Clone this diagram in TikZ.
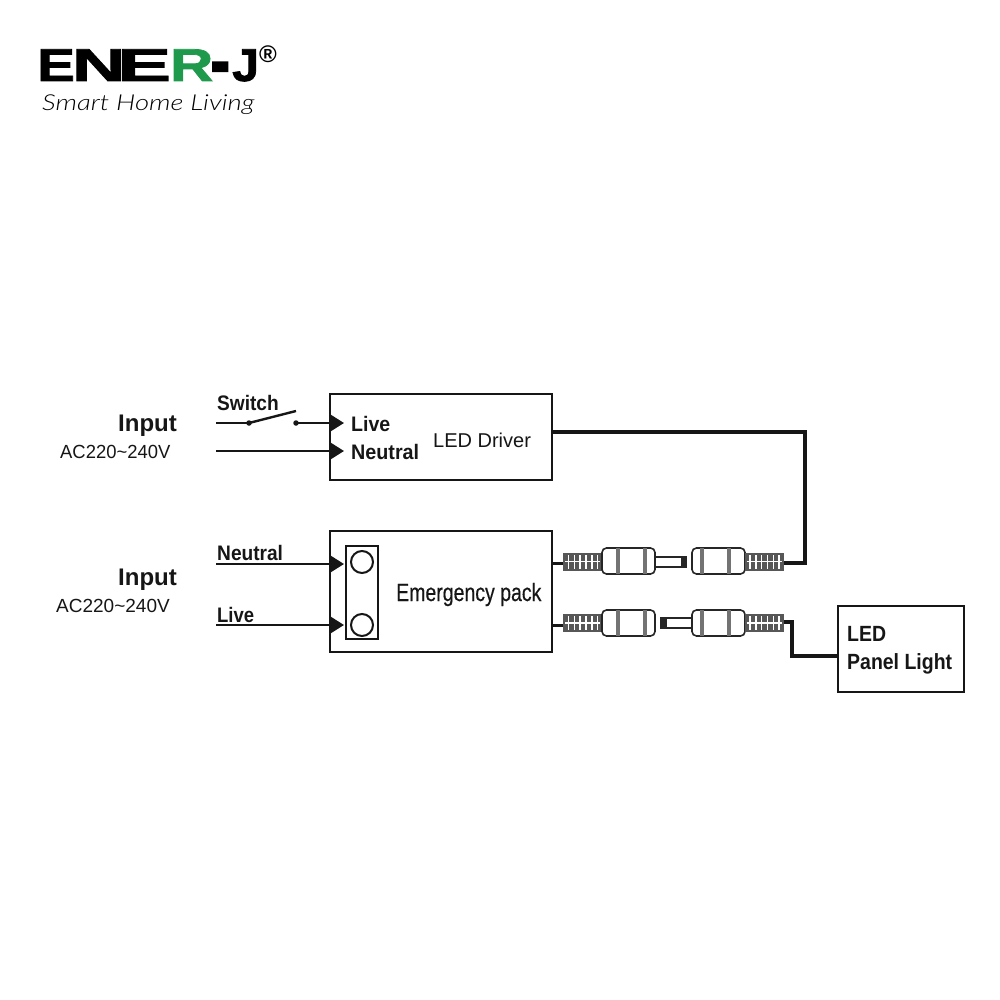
\documentclass[tikz,border=0pt]{standalone}
\usepackage{fontspec}
\setmainfont{Liberation Sans}
\newfontfamily\handfont{Lato Light}
\newfontfamily\logofont[FakeBold=1.6]{Liberation Sans Bold}
\newfontfamily\medfont[FakeBold=0.4]{Liberation Sans}
\usetikzlibrary{arrows.meta,calc}
\definecolor{ink}{HTML}{161616}
\definecolor{logogreen}{HTML}{1F9A4D}
\newcommand{\fs}[1]{\fontsize{#1}{#1}\selectfont}
\newcommand{\sx}[2]{\scalebox{#1}[1]{#2}}
\tikzset{
  x=1pt,y=-1pt,
  unit/.style={draw=ink,line width=2.4pt,fill=white,inner sep=0pt},
  lab/.style={anchor=base west,inner sep=0pt,text=ink},
  boldlab/.style={lab,font=\bfseries\fs{21}},
  inlab/.style={lab,font=\bfseries\fs{24}},
  vlab/.style={lab,font=\fs{19}},
  panellab/.style={lab,font=\bfseries\fs{22}},
  wire/.style={draw=ink,line width=2.4pt},
  feed/.style={draw=ink,line width=3.6pt,line join=miter},
  stub/.style={draw=ink,line width=3pt},
  tipwire/.style={wire,-{Triangle[length=14pt,width=17pt]}},
  contact/.style={circle,fill=ink,inner sep=0pt,minimum size=5.5pt},
  termbox/.style={draw=ink,line width=2pt,inner sep=0pt},
  spring/.style={rectangle,inner sep=0pt,minimum width=39pt,minimum height=18pt,fill=black!66,
    path picture={
      \foreach \f in {.14,.29,.44,.59,.74,.88}
        \draw[white,line width=1.4pt] ($(path picture bounding box.south west)!\f!(path picture bounding box.south east)+(0,-2)$) -- ++(0,-14);
      \draw[white,line width=1.1pt] ($(path picture bounding box.west)+(2,0)$) -- ($(path picture bounding box.east)+(-2,0)$);
    }},
  plugbody/.style={rectangle,draw=black!85,line width=1.6pt,fill=white,rounded corners=4.5pt,inner sep=0pt,minimum width=53pt,minimum height=26pt},
  band/.style={fill=black!55,draw=none},
  pin/.style={rectangle,draw=black!85,line width=1.2pt,fill=white,inner sep=0pt,minimum width=31pt,minimum height=10pt},
  pintip/.style={fill=black!85,draw=none},
}
\begin{document}
\begin{tikzpicture}
\useasboundingbox (0,0) rectangle (1000,1000);

% logo
\node[lab,text=black] (logo) at (37,81) {\fs{46}\logofont\sx{1.23}{E}\kern-3pt\sx{1.61}{N}\kern-8pt\sx{1.75}{E}\kern-1pt\textcolor{logogreen}{\sx{1.3}{R}}\kern-3pt\raisebox{-6pt}[0pt][0pt]{\scalebox{1.3}[1.7]{-}}\kern2pt\sx{1.05}{J}\kern-6pt};
\node[lab,text=black] (regmark) at (259,63) {\fs{24}\bfseries ®};
\node[lab,text=black] (tagline) at (42,111) {\handfont\itshape\fs{22}\sx{1.25}{Smart Home Living}};

% boxes
\node[unit,minimum width=222pt,minimum height=86pt] (driver) at (441,437) {};
\node[unit,minimum width=222pt,minimum height=121pt] (pack) at (441,591.5) {};
\node[unit,minimum width=126pt,minimum height=86pt] (panel) at (901,649) {};
\node[termbox,minimum width=32pt,minimum height=93pt] (term) at (362,592) {};
\node[termbox,circle,minimum size=22pt] (t1) at (362,562) {};
\node[termbox,circle,minimum size=22pt] (t2) at (362,625) {};

% labels
\node[inlab] (in1) at (118,431) {Input};
\node[vlab] (ac1) at (60,458) {\sx{.97}{AC220\textasciitilde240V}};
\node[inlab] (in2) at (118,585) {Input};
\node[vlab] (ac2) at (56,612) {AC220\textasciitilde240V};
\node[boldlab] (sw) at (217,410) {\sx{.91}{Switch}};
\node[boldlab] (l1) at (351,431) {\sx{.93}{Live}};
\node[boldlab] (n1) at (351,459) {\sx{.94}{Neutral}};
\node[lab,font=\fs{20}] (drv) at (433,447) {LED Driver};
\node[lab,font=\medfont\fs{25}] (emg) at (396,601) {\sx{.78}{Emergency pack}};
\node[boldlab] (n2) at (217,560) {\sx{.91}{Neutral}};
\node[boldlab] (l2) at (217,622) {\sx{.88}{Live}};
\node[panellab] (p1) at (847,641) {\sx{.885}{LED}};
\node[panellab] (p2) at (847,669) {\sx{.885}{Panel Light}};

% switch and inputs
\coordinate (a1) at (216,423);
\node[contact] (c1) at (249,423) {};
\coordinate (blade) at (296,411);
\node[contact] (c2) at (296,423) {};
\coordinate (h1) at (344,423);
\draw[wire] (a1) -- (c1.center);
\draw[wire] (c1.center) -- (blade);
\draw[tipwire] (c2.center) -- (h1);
\coordinate (a2) at (216,451);
\coordinate (h2) at (344,451);
\draw[tipwire] (a2) -- (h2);
\coordinate (a3) at (216,564);
\coordinate (h3) at (344,564);
\draw[tipwire] (a3) -- (h3);
\coordinate (a4) at (216,625);
\coordinate (h4) at (344,625);
\draw[tipwire] (a4) -- (h4);

% connectors: top row
\node[spring] (s1) at (582.5,561.5) {};
\node[pin] (pin1) at (670.5,562) {};
\fill[pintip] (681,557) rectangle (686,567);
\node[plugbody] (b1) at (628.5,561) {};
\fill[band] (616,548) rectangle (620,574);
\fill[band] (643,548) rectangle (647,574);
\node[plugbody] (b2) at (718.5,561) {};
\fill[band] (700,548) rectangle (704,574);
\fill[band] (727,548) rectangle (731,574);
\node[spring] (s2) at (764,561.5) {};
% connectors: bottom row
\node[spring] (s3) at (582.5,623) {};
\node[plugbody] (b3) at (628.5,623) {};
\fill[band] (616,610) rectangle (620,636);
\fill[band] (643,610) rectangle (647,636);
\node[pin] (pin2) at (676.5,623) {};
\fill[pintip] (661,618) rectangle (667,628);
\node[plugbody] (b4) at (718.5,623) {};
\fill[band] (700,610) rectangle (704,636);
\fill[band] (727,610) rectangle (731,636);
\node[spring] (s4) at (764,623) {};

% feeds
\coordinate (d0) at (552,432);
\coordinate (d1) at (805,432);
\coordinate (d2) at (805,563);
\draw[feed] (d0) -- (d1) -- (d2) -- (s2.east |- d2);
\coordinate (e1) at (552,563);
\draw[stub] (e1) -- (s1.west |- e1);
\coordinate (e2) at (552,625);
\draw[stub] (e2) -- (s3.west |- e2);
\coordinate (k1) at (792,622);
\coordinate (k2) at (792,656);
\coordinate (k3) at (838,656);
\draw[feed] (s4.east |- k1) -- (k1) -- (k2) -- (k3);
\end{tikzpicture}
\end{document}
